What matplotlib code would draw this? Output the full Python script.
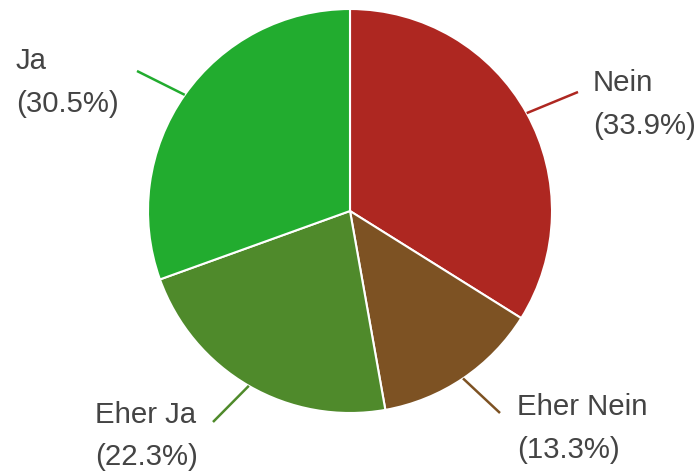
import numpy as np
import matplotlib
matplotlib.use("Agg")
import matplotlib.pyplot as plt

categories = ["Nein", "Eher Nein", "Eher Ja", "Ja"]
values = [33.9, 13.3, 22.3, 30.5]
colors = ["#AE2721", "#7D5223", "#4F8A2B", "#22AC2F"]

# layout (pixel coordinates, y measured from top)
W, H = 700, 475
cx, cy, R = 350, 211, 202
line_end = {"Nein": (578, 92), "Eher Nein": (500, 413), "Eher Ja": (213, 422), "Ja": (137, 71)}
text_pos = {"Nein": (593, 91, 134), "Eher Nein": (517, 415, 458),
            "Eher Ja": (95, 423, 465), "Ja": (16, 69, 112)}

plt.rcParams['font.family'] = ['Liberation Sans', 'DejaVu Sans']
fig = plt.figure(figsize=(7, 4.75), dpi=100)
ax = fig.add_axes([0, 0, 1, 1])
ax.set_xlim(0, W)
ax.set_ylim(0, H)
ax.axis('off')

wedges, _ = ax.pie(values, colors=colors, startangle=90, counterclock=False,
                   center=(cx, H - cy), radius=R,
                   wedgeprops=dict(edgecolor='white', linewidth=1.5))
ax.set_xlim(0, W)
ax.set_ylim(0, H)
ax.set_aspect('equal')

total = sum(values)
for w, cat, col, v in zip(wedges, categories, colors, values):
    mid = np.deg2rad((w.theta1 + w.theta2) / 2)
    sx, sy = cx + R * np.cos(mid), (H - cy) + R * np.sin(mid)
    ex, ey = line_end[cat]
    ax.plot([sx, ex], [sy, H - ey], color=col, lw=1.8, solid_capstyle='butt')
    tx, b1, b2 = text_pos[cat]
    ax.text(tx, H - b1, cat, fontsize=21.2, color='#444444', ha='left', va='baseline')
    ax.text(tx, H - b2, f"({v / total * 100:.1f}%)", fontsize=21.2, color='#444444',
            ha='left', va='baseline')

fig.savefig("out.png", dpi=100)
